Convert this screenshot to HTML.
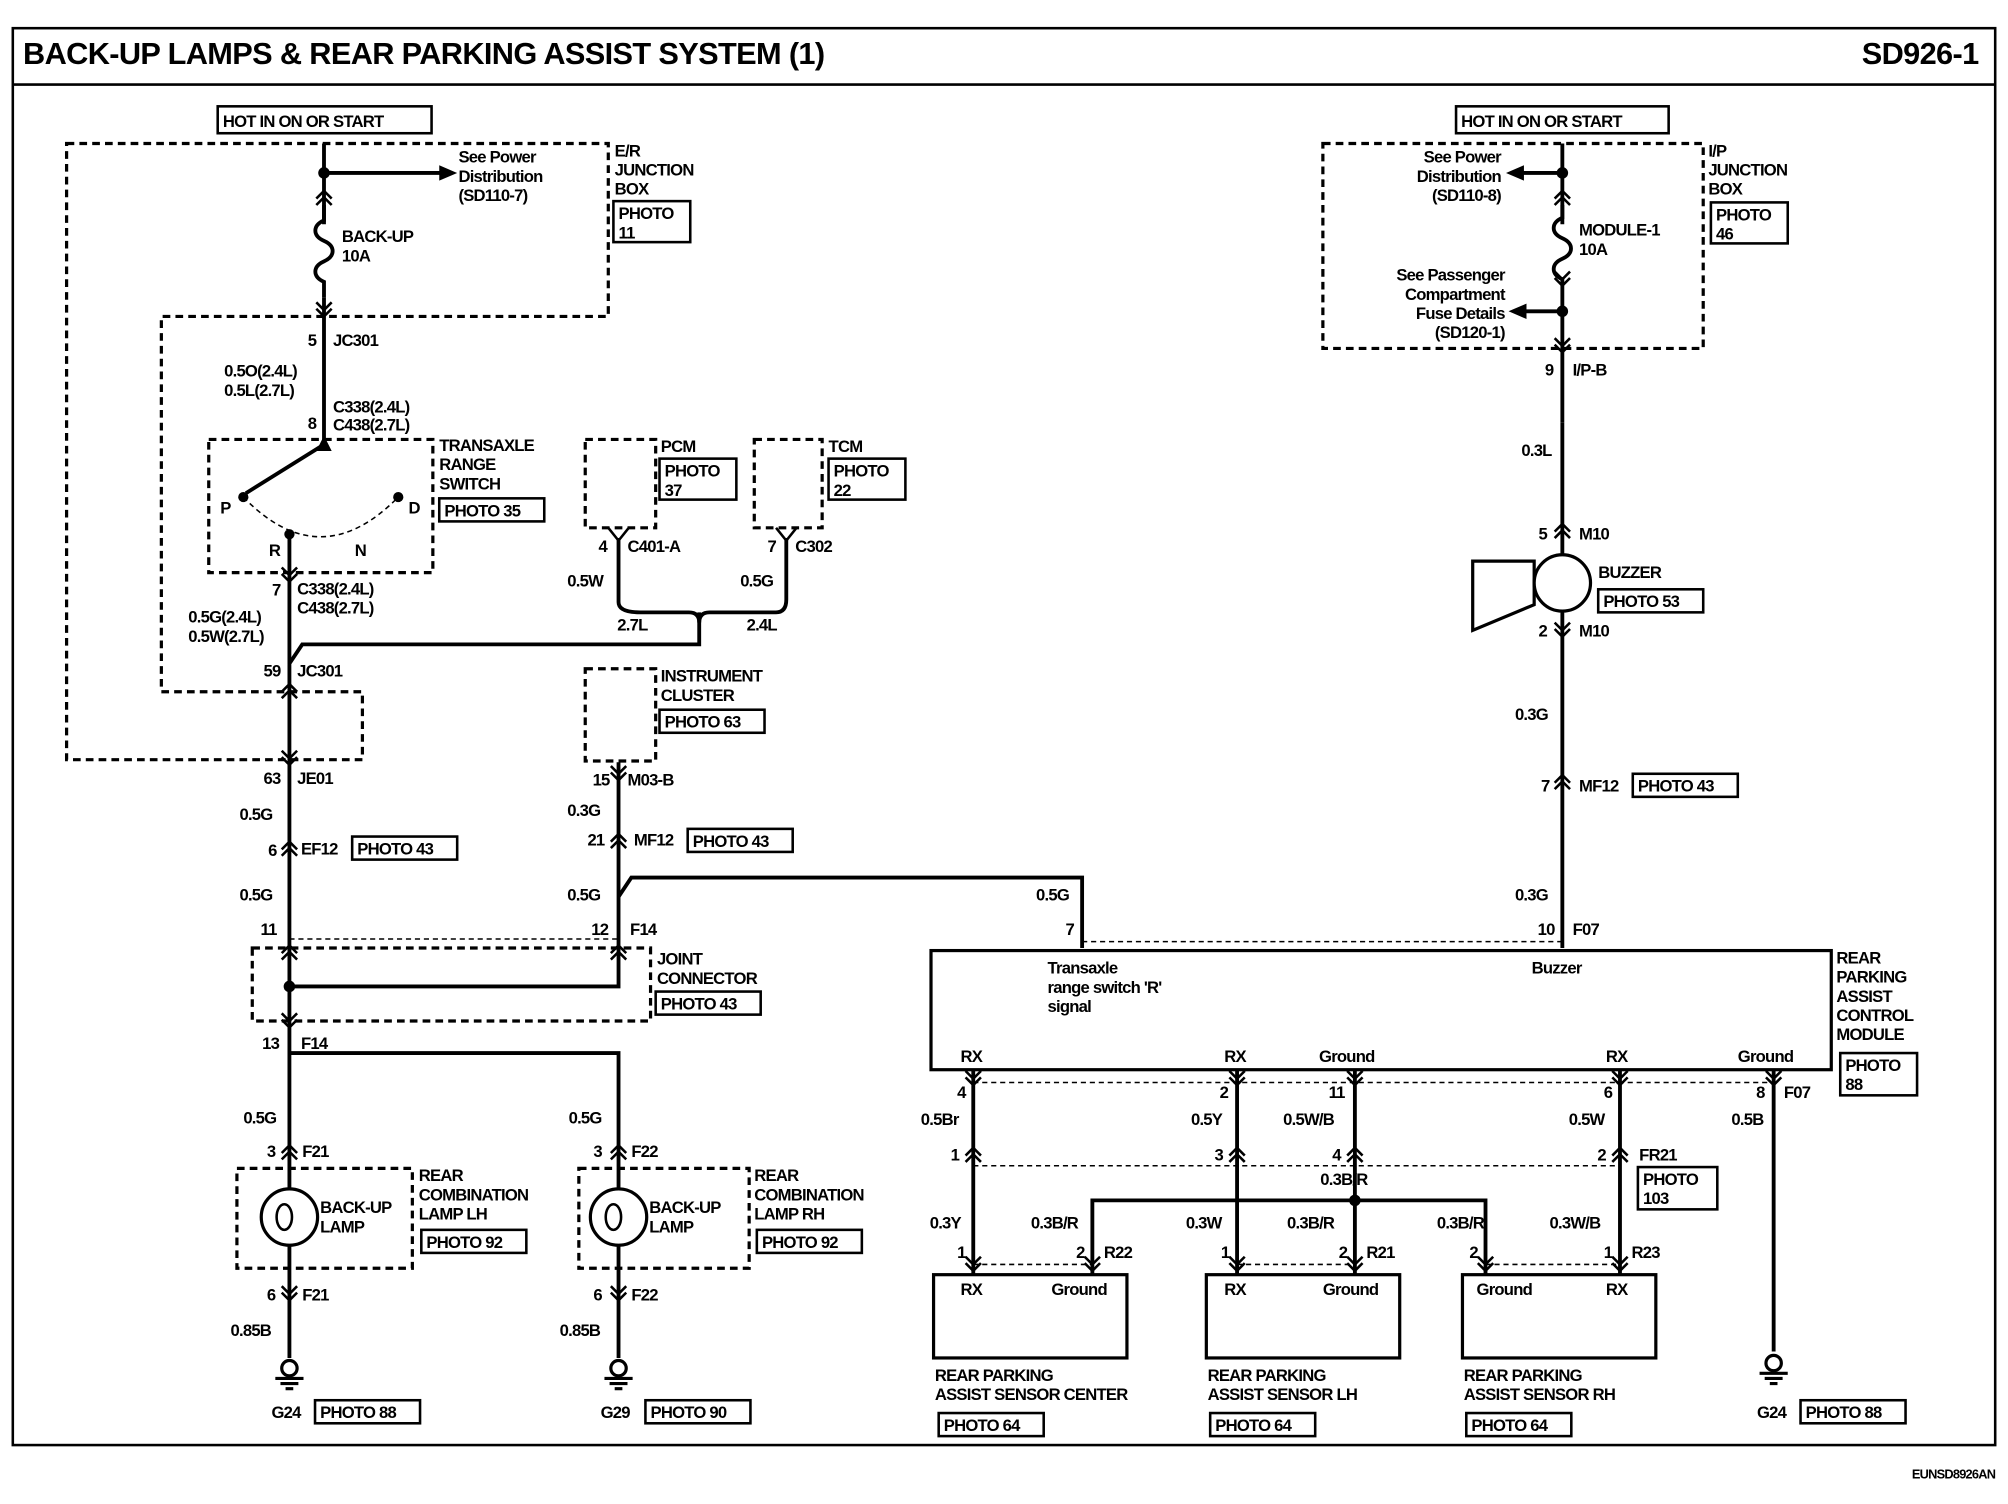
<!DOCTYPE html>
<html><head><meta charset="utf-8"><style>
html,body{margin:0;padding:0;background:#fff}
svg{display:block}
text{font-family:"Liberation Sans",Arial,sans-serif;font-weight:bold;font-size:13px;fill:#000;letter-spacing:-0.6px}
.t{font-size:24px;letter-spacing:-0.5px}
.w{stroke:#000;stroke-width:3;fill:none}
.d{stroke:#000;stroke-width:2.5;fill:none;stroke-dasharray:6 4}
.dl{stroke:#000;stroke-width:1.2;fill:none;stroke-dasharray:4 3}
.b{stroke:#000;stroke-width:2;fill:none}
</style></head><body>
<svg width="2008" height="1504" viewBox="0 0 1568 1174" preserveAspectRatio="none" xmlns="http://www.w3.org/2000/svg">
<defs>
<g id="cu"><path d="M-6 7 L0 1 L6 7 M-6 12 L0 6 L6 12" stroke="#000" stroke-width="2" fill="none"/></g>
<g id="cd"><path d="M-6 -7 L0 -1 L6 -7 M-6 -12 L0 -6 L6 -12" stroke="#000" stroke-width="2" fill="none"/></g>
<g id="gnd"><circle cx="0" cy="0" r="6" fill="none" stroke="#000" stroke-width="2.5"/><path d="M-11 8 H11 M-7 12 H7 M-3 16 H3" stroke="#000" stroke-width="2.5"/></g>
</defs>
<rect x="10" y="22" width="1548" height="1106" class="b"/>
<line x1="10" y1="66" x2="1558" y2="66" stroke="#000" stroke-width="2"/>
<text x="18" y="50" class="t">BACK-UP LAMPS &amp; REAR PARKING ASSIST SYSTEM (1)</text>
<text x="1545" y="50" class="t" text-anchor="end">SD926-1</text>
<text x="1558" y="1154" text-anchor="end" style="font-size:10px">EUNSD8926AN</text>

<!-- LEFT -->
<rect x="170" y="83" width="167" height="21" class="b"/><text x="174" y="99">HOT IN ON OR START</text>
<path class="d" d="M52 112 H475 V247 H126 V540 H283 V593 H52 Z"/>
<text x="480" y="122">E/R</text><text x="480" y="137">JUNCTION</text><text x="480" y="152">BOX</text>
<rect x="479" y="157" width="60" height="32" class="b"/><text x="483" y="171">PHOTO</text><text x="483" y="186">11</text>
<line class="w" x1="253" y1="112" x2="253" y2="175"/>
<circle cx="253" cy="135" r="4.5"/>
<line class="w" x1="253" y1="135" x2="345" y2="135"/><path d="M343 129 L357 135 L343 141 Z"/>
<text x="358" y="127">See Power</text><text x="358" y="142">Distribution</text><text x="358" y="157">(SD110-7)</text>
<use href="#cu" x="253" y="148"/>
<path class="w" d="M253 160 V172 C244 176 244 184 253 188 C262 192 262 200 253 204 C244 208 244 216 253 220 V232"/>
<text x="267" y="189">BACK-UP</text><text x="267" y="204">10A</text>
<use href="#cd" x="253" y="248"/>
<line class="w" x1="253" y1="232" x2="253" y2="345"/>
<text x="247" y="270" text-anchor="end">5</text><text x="260" y="270">JC301</text>
<text x="175" y="294">0.5O(2.4L)</text><text x="175" y="309">0.5L(2.7L)</text>
<text x="247" y="335" text-anchor="end">8</text><text x="260" y="322">C338(2.4L)</text><text x="260" y="336">C438(2.7L)</text>
<path class="d" d="M163 343 H338 V447 H163 Z"/>
<text x="343" y="352">TRANSAXLE</text><text x="343" y="367">RANGE</text><text x="343" y="382">SWITCH</text>
<rect x="343" y="389" width="82" height="18" class="b"/><text x="347" y="403">PHOTO 35</text>
<path d="M247 352 L253 340 L259 352 Z"/>
<line class="w" x1="253" y1="347" x2="192" y2="385"/>
<circle cx="190" cy="388" r="4"/><circle cx="311" cy="388" r="4"/><circle cx="226" cy="417" r="4"/>
<path class="dl" stroke-width="1.6" d="M190 388 Q 250 450 311 388"/>
<text x="172" y="401">P</text><text x="319" y="401">D</text><text x="210" y="434">R</text><text x="277" y="434">N</text>
<line class="w" x1="226" y1="417" x2="226" y2="518"/>
<use href="#cd" x="226" y="455"/>
<text x="219" y="465" text-anchor="end">7</text><text x="232" y="464">C338(2.4L)</text><text x="232" y="479">C438(2.7L)</text>
<text x="147" y="486">0.5G(2.4L)</text><text x="147" y="501">0.5W(2.7L)</text>
<text x="219" y="528" text-anchor="end">59</text><text x="232" y="528">JC301</text>
<path class="w" d="M546 478 V503 H236 L226 518 V1060"/>
<use href="#cu" x="226" y="533"/>
<use href="#cd" x="226" y="598"/>
<text x="219" y="612" text-anchor="end">63</text><text x="232" y="612">JE01</text>
<text x="187" y="640">0.5G</text>
<use href="#cu" x="226" y="656"/>
<text x="216" y="668" text-anchor="end">6</text><text x="235" y="667">EF12</text>
<rect x="275" y="653" width="82" height="18" class="b"/><text x="279" y="667">PHOTO 43</text>
<text x="187" y="703">0.5G</text>
<text x="216" y="730" text-anchor="end">11</text>
<path class="dl" d="M226 733 H483"/>
<path class="d" d="M197 740 H508 V797 H197 Z"/>
<use href="#cu" x="226" y="737"/><use href="#cu" x="483" y="737"/>
<circle cx="226" cy="770" r="4.5"/>
<path class="w" d="M226 770 H483 V595"/>
<use href="#cd" x="226" y="803"/>
<text x="218" y="819" text-anchor="end">13</text><text x="235" y="819">F14</text>
<path class="w" d="M226 822 H483 V1060"/>
<text x="513" y="753">JOINT</text><text x="513" y="768">CONNECTOR</text>
<rect x="512" y="774" width="82" height="18" class="b"/><text x="516" y="788">PHOTO 43</text>
<!-- LH lamp -->
<text x="190" y="877">0.5G</text>
<use href="#cu" x="226" y="893"/>
<text x="215" y="903" text-anchor="end">3</text><text x="236" y="903">F21</text>
<path class="d" d="M185 912 H322 V990 H185 Z"/>
<circle cx="226" cy="950" r="22" fill="#fff" stroke="#000" stroke-width="2.5"/>
<path d="M222 940 A6 10 0 0 0 222 960 A6 10 0 0 0 222 940" fill="none" stroke="#000" stroke-width="2"/>
<text x="250" y="947">BACK-UP</text><text x="250" y="962">LAMP</text>
<text x="327" y="922">REAR</text><text x="327" y="937">COMBINATION</text><text x="327" y="952">LAMP LH</text>
<rect x="329" y="960" width="82" height="18" class="b"/><text x="333" y="974">PHOTO 92</text>
<use href="#cd" x="226" y="1016"/>
<text x="215" y="1015" text-anchor="end">6</text><text x="236" y="1015">F21</text>
<text x="180" y="1043">0.85B</text>
<use href="#gnd" x="226" y="1068"/>
<text x="212" y="1107">G24</text>
<rect x="246" y="1093" width="82" height="18" class="b"/><text x="250" y="1107">PHOTO 88</text>
<!-- RH lamp -->
<text x="444" y="877">0.5G</text>
<use href="#cu" x="483" y="893"/>
<text x="470" y="903" text-anchor="end">3</text><text x="493" y="903">F22</text>
<path class="d" d="M452 912 H585 V990 H452 Z"/>
<circle cx="483" cy="950" r="22" fill="#fff" stroke="#000" stroke-width="2.5"/>
<path d="M479 940 A6 10 0 0 0 479 960 A6 10 0 0 0 479 940" fill="none" stroke="#000" stroke-width="2"/>
<text x="507" y="947">BACK-UP</text><text x="507" y="962">LAMP</text>
<text x="589" y="922">REAR</text><text x="589" y="937">COMBINATION</text><text x="589" y="952">LAMP RH</text>
<rect x="591" y="960" width="82" height="18" class="b"/><text x="595" y="974">PHOTO 92</text>
<use href="#cd" x="483" y="1016"/>
<text x="470" y="1015" text-anchor="end">6</text><text x="493" y="1015">F22</text>
<text x="437" y="1043">0.85B</text>
<use href="#gnd" x="483" y="1068"/>
<text x="469" y="1107">G29</text>
<rect x="504" y="1093" width="82" height="18" class="b"/><text x="508" y="1107">PHOTO 90</text>
<!-- PCM/TCM -->
<path class="d" d="M457 343 H512 V412 H457 Z"/>
<text x="516" y="353">PCM</text>
<rect x="515" y="358" width="60" height="32" class="b"/><text x="519" y="372">PHOTO</text><text x="519" y="387">37</text>
<path class="d" d="M589 343 H642 V412 H589 Z"/>
<text x="647" y="353">TCM</text>
<rect x="647" y="358" width="60" height="32" class="b"/><text x="651" y="372">PHOTO</text><text x="651" y="387">22</text>
<path d="M475 412 L483 422 L491 412 M606 412 L614 422 L622 412" class="b"/>
<text x="474" y="431" text-anchor="end">4</text><text x="490" y="431">C401-A</text>
<text x="606" y="431" text-anchor="end">7</text><text x="621" y="431">C302</text>
<path class="w" d="M483 420 V470 Q483 478 500 478 H538 Q546 478 546 486 M546 486 Q546 478 554 478 H606 Q614 478 614 468 V420"/>
<text x="443" y="458">0.5W</text><text x="578" y="458">0.5G</text>
<text x="482" y="492">2.7L</text><text x="583" y="492">2.4L</text>
<!-- Instrument cluster -->
<path class="d" d="M457 522 H512 V594 H457 Z"/>
<text x="516" y="532">INSTRUMENT</text><text x="516" y="547">CLUSTER</text>
<rect x="515" y="554" width="82" height="18" class="b"/><text x="519" y="568">PHOTO 63</text>
<use href="#cd" x="483" y="610"/>
<text x="476" y="613" text-anchor="end">15</text><text x="490" y="613">M03-B</text>
<text x="443" y="637">0.3G</text>
<use href="#cu" x="483" y="650"/>
<text x="472" y="660" text-anchor="end">21</text><text x="495" y="660">MF12</text>
<rect x="537" y="647" width="82" height="18" class="b"/><text x="541" y="661">PHOTO 43</text>
<text x="443" y="703">0.5G</text>
<text x="475" y="730" text-anchor="end">12</text><text x="492" y="730">F14</text>
<path class="w" d="M483 700 L493 685 H845 V740"/>
<text x="809" y="703">0.5G</text><text x="832" y="730">7</text>

<!-- RIGHT -->
<rect x="1137" y="83" width="166" height="21" class="b"/><text x="1141" y="99">HOT IN ON OR START</text>
<path class="d" d="M1033 112 H1330 V272 H1033 Z"/>
<text x="1334" y="122">I/P</text><text x="1334" y="137">JUNCTION</text><text x="1334" y="152">BOX</text>
<rect x="1336" y="158" width="60" height="32" class="b"/><text x="1340" y="172">PHOTO</text><text x="1340" y="187">46</text>
<line class="w" x1="1220" y1="112" x2="1220" y2="175"/>
<circle cx="1220" cy="135" r="4.5"/>
<line class="w" x1="1220" y1="135" x2="1186" y2="135"/><path d="M1190 129 L1176 135 L1190 141 Z"/>
<text x="1172" y="127" text-anchor="end">See Power</text><text x="1172" y="142" text-anchor="end">Distribution</text><text x="1172" y="157" text-anchor="end">(SD110-8)</text>
<use href="#cu" x="1220" y="148"/>
<path class="w" d="M1220 160 V170 C1211 174 1211 182 1220 186 C1229 190 1229 198 1220 202 C1211 206 1211 214 1220 218 V330"/>
<use href="#cd" x="1220" y="224"/>
<text x="1233" y="184">MODULE-1</text><text x="1233" y="199">10A</text>
<circle cx="1220" cy="243" r="4.5"/>
<line class="w" x1="1220" y1="243" x2="1190" y2="243"/><path d="M1192 237 L1178 243 L1192 249 Z"/>
<text x="1175" y="219" text-anchor="end">See Passenger</text><text x="1175" y="234" text-anchor="end">Compartment</text><text x="1175" y="249" text-anchor="end">Fuse Details</text><text x="1175" y="264" text-anchor="end">(SD120-1)</text>
<use href="#cd" x="1220" y="276"/>
<text x="1213" y="293" text-anchor="end">9</text><text x="1228" y="293">I/P-B</text>
<text x="1188" y="356">0.3L</text>
<line class="w" x1="1220" y1="330" x2="1220" y2="740"/>
<use href="#cu" x="1220" y="408"/>
<text x="1208" y="421" text-anchor="end">5</text><text x="1233" y="421">M10</text>
<polygon points="1150,438 1198,438 1198,472 1150,492" fill="#fff" stroke="#000" stroke-width="2.5"/>
<circle cx="1220" cy="455" r="22" fill="#fff" stroke="#000" stroke-width="2.5"/>
<text x="1248" y="451">BUZZER</text>
<rect x="1248" y="460" width="82" height="18" class="b"/><text x="1252" y="474">PHOTO 53</text>
<use href="#cd" x="1220" y="498"/>
<text x="1208" y="497" text-anchor="end">2</text><text x="1233" y="497">M10</text>
<text x="1183" y="562">0.3G</text>
<use href="#cu" x="1220" y="604"/>
<text x="1210" y="618" text-anchor="end">7</text><text x="1233" y="618">MF12</text>
<rect x="1275" y="604" width="82" height="18" class="b"/><text x="1279" y="618">PHOTO 43</text>
<text x="1183" y="703">0.3G</text>
<text x="1214" y="730" text-anchor="end">10</text><text x="1228" y="730">F07</text>
<path class="dl" d="M845 735 H1220"/>
<!-- module -->
<rect x="727" y="742" width="703" height="93" fill="none" stroke="#000" stroke-width="2.5"/>
<text x="818" y="760">Transaxle</text><text x="818" y="775">range switch 'R'</text><text x="818" y="790">signal</text>
<text x="1196" y="760">Buzzer</text>
<text x="1434" y="752">REAR</text><text x="1434" y="767">PARKING</text><text x="1434" y="782">ASSIST</text><text x="1434" y="797">CONTROL</text><text x="1434" y="812">MODULE</text>
<rect x="1437" y="822" width="60" height="33" class="b"/><text x="1441" y="836">PHOTO</text><text x="1441" y="851">88</text>
<text x="750" y="829">RX</text><text x="956" y="829">RX</text><text x="1030" y="829">Ground</text><text x="1254" y="829">RX</text><text x="1357" y="829">Ground</text>
<path class="dl" d="M760 845 H1385 M760 910 H1265 M760 987 H853 M966 987 H1058 M1160 987 H1265"/>
<g class="w">
<line x1="760" y1="835" x2="760" y2="995"/><line x1="966" y1="835" x2="966" y2="995"/>
<line x1="1058" y1="835" x2="1058" y2="995"/><line x1="1265" y1="835" x2="1265" y2="995"/>
<line x1="1385" y1="835" x2="1385" y2="1055"/>
<path d="M853 995 V937 H1160 V995"/>
</g>
<circle cx="1058" cy="937" r="4.5"/>
<use href="#cd" x="760" y="848"/><use href="#cd" x="966" y="848"/><use href="#cd" x="1058" y="848"/><use href="#cd" x="1265" y="848"/><use href="#cd" x="1385" y="848"/>
<text x="754" y="857" text-anchor="end">4</text><text x="959" y="857" text-anchor="end">2</text><text x="1050" y="857" text-anchor="end">11</text><text x="1259" y="857" text-anchor="end">6</text><text x="1378" y="857" text-anchor="end">8</text><text x="1393" y="857">F07</text>
<text x="719" y="878">0.5Br</text><text x="930" y="878">0.5Y</text><text x="1002" y="878">0.5W/B</text><text x="1225" y="878">0.5W</text><text x="1352" y="878">0.5B</text>
<use href="#cu" x="760" y="895"/><use href="#cu" x="966" y="895"/><use href="#cu" x="1058" y="895"/><use href="#cu" x="1265" y="895"/>
<text x="749" y="906" text-anchor="end">1</text><text x="955" y="906" text-anchor="end">3</text><text x="1047" y="906" text-anchor="end">4</text><text x="1254" y="906" text-anchor="end">2</text>
<text x="1280" y="906">FR21</text>
<rect x="1279" y="911" width="62" height="33" class="b"/><text x="1283" y="925">PHOTO</text><text x="1283" y="940">103</text>
<text x="1031" y="925">0.3B/R</text>
<text x="726" y="959">0.3Y</text><text x="805" y="959">0.3B/R</text><text x="926" y="959">0.3W</text><text x="1005" y="959">0.3B/R</text><text x="1122" y="959">0.3B/R</text><text x="1210" y="959">0.3W/B</text>
<use href="#cd" x="760" y="993"/><use href="#cd" x="853" y="993"/><use href="#cd" x="966" y="993"/><use href="#cd" x="1058" y="993"/><use href="#cd" x="1160" y="993"/><use href="#cd" x="1265" y="993"/>
<text x="754" y="982" text-anchor="end">1</text><text x="847" y="982" text-anchor="end">2</text><text x="862" y="982">R22</text>
<text x="960" y="982" text-anchor="end">1</text><text x="1052" y="982" text-anchor="end">2</text><text x="1067" y="982">R21</text>
<text x="1154" y="982" text-anchor="end">2</text><text x="1259" y="982" text-anchor="end">1</text><text x="1274" y="982">R23</text>
<rect x="729" y="995" width="151" height="65" fill="none" stroke="#000" stroke-width="2.5"/>
<rect x="942" y="995" width="151" height="65" fill="none" stroke="#000" stroke-width="2.5"/>
<rect x="1142" y="995" width="151" height="65" fill="none" stroke="#000" stroke-width="2.5"/>
<text x="750" y="1011">RX</text><text x="821" y="1011">Ground</text>
<text x="956" y="1011">RX</text><text x="1033" y="1011">Ground</text>
<text x="1153" y="1011">Ground</text><text x="1254" y="1011">RX</text>
<text x="730" y="1078">REAR PARKING</text><text x="730" y="1093">ASSIST SENSOR CENTER</text>
<rect x="733" y="1103" width="82" height="18" class="b"/><text x="737" y="1117">PHOTO 64</text>
<text x="943" y="1078">REAR PARKING</text><text x="943" y="1093">ASSIST SENSOR LH</text>
<rect x="945" y="1103" width="82" height="18" class="b"/><text x="949" y="1117">PHOTO 64</text>
<text x="1143" y="1078">REAR PARKING</text><text x="1143" y="1093">ASSIST SENSOR RH</text>
<rect x="1145" y="1103" width="82" height="18" class="b"/><text x="1149" y="1117">PHOTO 64</text>
<use href="#gnd" x="1385" y="1064"/>
<text x="1372" y="1107">G24</text>
<rect x="1406" y="1093" width="82" height="18" class="b"/><text x="1410" y="1107">PHOTO 88</text>
</svg>
</body></html>
